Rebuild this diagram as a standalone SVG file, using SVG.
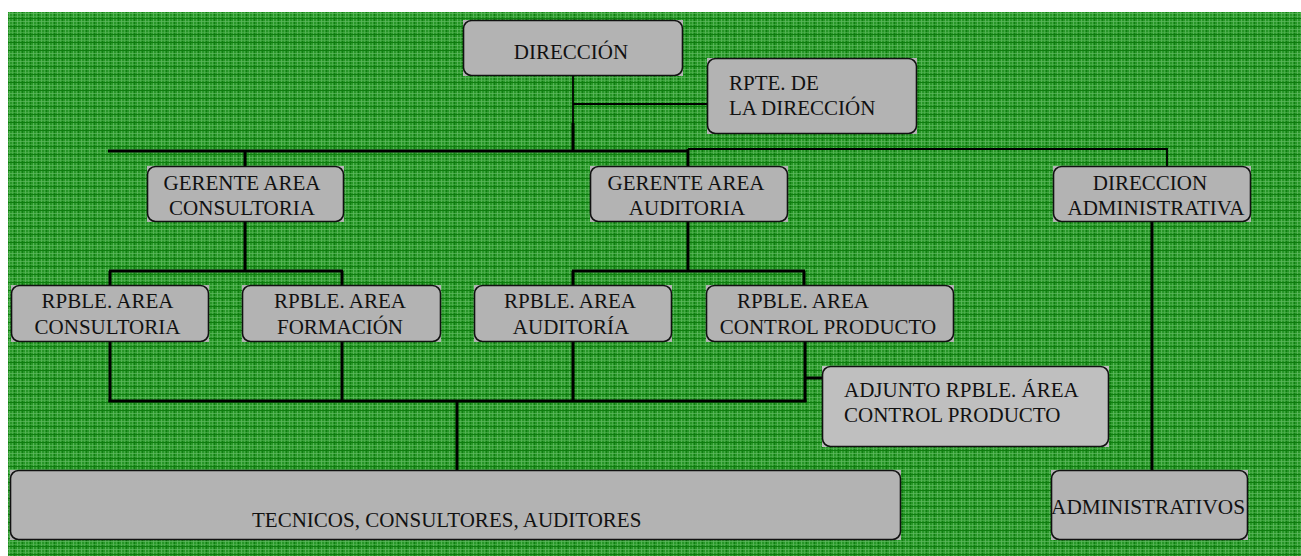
<svg xmlns="http://www.w3.org/2000/svg" width="1301" height="556" viewBox="0 0 1301 556" font-family="'Liberation Serif', 'DejaVu Serif', serif">
<defs>
<pattern id="plaid" x="8" y="12" width="8" height="8" patternUnits="userSpaceOnUse">
<rect width="8" height="8" fill="#279627"/>
<rect x="1" y="0" width="1" height="8" fill="#5fb95f" opacity="0.8"/>
<rect x="4" y="0" width="1" height="8" fill="#52b252" opacity="0.7"/>
<rect x="6" y="0" width="1" height="8" fill="#0f7d0f"/>
<rect x="0" y="1" width="8" height="1" fill="#5fb95f" opacity="0.7"/>
<rect x="0" y="4" width="8" height="1" fill="#52b252" opacity="0.6"/>
<rect x="0" y="6" width="8" height="1" fill="#0f7d0f"/>
</pattern>
</defs>
<style>
.bg{fill:#b3b3b3;stroke:none}
.bgl{fill:#bfbfbf;stroke:none}
.bd{fill:none;stroke:#111;stroke-width:1.6}
.t{font-family:'Liberation Serif', 'DejaVu Serif', serif;font-size:21px;fill:#111}
.c{text-anchor:middle}
.thick{stroke:#000;stroke-width:3;fill:none}
.thin{stroke:#000;stroke-width:1.8;fill:none}
</style>
<rect x="0" y="0" width="1301" height="556" fill="#ffffff"/>
<rect x="8" y="12" width="1293" height="544" fill="url(#plaid)"/>

<g id="connectors">
<line class="thin" x1="573" y1="76" x2="573" y2="124"/>
<line class="thin" x1="573" y1="104" x2="707" y2="104"/>
<line class="thick" x1="573" y1="123" x2="573" y2="152"/>
<line class="thick" x1="108" y1="151" x2="688" y2="151"/>
<line class="thin" x1="688" y1="149" x2="1168" y2="149"/>
<line class="thick" x1="245" y1="151" x2="245" y2="166"/>
<line class="thick" x1="688" y1="149" x2="688" y2="166"/>
<line class="thin" x1="1167" y1="149" x2="1167" y2="166"/>
<line class="thick" x1="245" y1="222" x2="245" y2="272"/>
<line class="thick" x1="109" y1="271" x2="343" y2="271"/>
<line class="thick" x1="110" y1="271" x2="110" y2="285"/>
<line class="thick" x1="342" y1="271" x2="342" y2="285"/>
<line class="thick" x1="688" y1="222" x2="688" y2="272"/>
<line class="thick" x1="572" y1="271" x2="805" y2="271"/>
<line class="thick" x1="573" y1="271" x2="573" y2="285"/>
<line class="thick" x1="804" y1="271" x2="804" y2="285"/>
<line class="thick" x1="110" y1="342" x2="110" y2="402"/>
<line class="thick" x1="342" y1="342" x2="342" y2="402"/>
<line class="thick" x1="573" y1="342" x2="573" y2="402"/>
<line class="thick" x1="805" y1="342" x2="805" y2="402"/>
<line class="thick" x1="108.5" y1="401" x2="806.5" y2="401"/>
<line class="thick" x1="805" y1="378" x2="822" y2="378"/>
<line class="thick" x1="457" y1="401" x2="457" y2="470"/>
<line class="thick" x1="1152" y1="222" x2="1152" y2="470"/>
</g>

<g id="direccion">
<rect class="bg" x="463" y="20" width="220" height="56"/>
<rect class="bd" x="463.5" y="20.5" width="219" height="55" rx="8"/>
<text class="t c" x="571" y="59">DIRECCIÓN</text>
</g>
<g id="rpte">
<rect class="bg" x="707" y="58" width="210" height="76"/>
<rect class="bd" x="707.5" y="58.5" width="209" height="75" rx="8"/>
<text class="t" x="729" y="90">RPTE. DE</text>
<text class="t" x="729" y="115">LA DIRECCIÓN</text>
</g>
<g id="gerente-consultoria">
<rect class="bg" x="147" y="166" width="197" height="56"/>
<rect class="bd" x="147.5" y="166.5" width="196" height="55" rx="8"/>
<text class="t c" x="242" y="190">GERENTE AREA</text>
<text class="t c" x="242" y="215">CONSULTORIA</text>
</g>
<g id="gerente-auditoria">
<rect class="bg" x="590" y="166" width="198" height="56"/>
<rect class="bd" x="590.5" y="166.5" width="197" height="55" rx="8"/>
<text class="t c" x="686" y="190">GERENTE AREA</text>
<text class="t c" x="687" y="215">AUDITORIA</text>
</g>
<g id="direccion-administrativa">
<rect class="bg" x="1053" y="166" width="198" height="56"/>
<rect class="bd" x="1053.5" y="166.5" width="197" height="55" rx="8"/>
<text class="t c" x="1150" y="190">DIRECCION</text>
<text class="t c" x="1156" y="215">ADMINISTRATIVA</text>
</g>
<g id="rpble-consultoria">
<rect class="bg" x="11" y="285" width="198" height="57"/>
<rect class="bd" x="11.5" y="285.5" width="197" height="56" rx="8"/>
<text class="t c" x="107.5" y="308">RPBLE. AREA</text>
<text class="t c" x="107.5" y="334">CONSULTORIA</text>
</g>
<g id="rpble-formacion">
<rect class="bg" x="242" y="285" width="199" height="57"/>
<rect class="bd" x="242.5" y="285.5" width="198" height="56" rx="8"/>
<text class="t c" x="340" y="308">RPBLE. AREA</text>
<text class="t c" x="340" y="334">FORMACIÓN</text>
</g>
<g id="rpble-auditoria">
<rect class="bg" x="474" y="285" width="198" height="57"/>
<rect class="bd" x="474.5" y="285.5" width="197" height="56" rx="8"/>
<text class="t c" x="570" y="308">RPBLE. AREA</text>
<text class="t c" x="571" y="334">AUDITORÍA</text>
</g>
<g id="rpble-control">
<rect class="bg" x="706" y="285" width="248" height="57"/>
<rect class="bd" x="706.5" y="285.5" width="247" height="56" rx="8"/>
<text class="t c" x="803" y="308">RPBLE. AREA</text>
<text class="t c" x="828" y="334">CONTROL PRODUCTO</text>
</g>
<g id="adjunto">
<rect class="bgl" x="822" y="366" width="287" height="81"/>
<rect class="bd" x="822.5" y="366.5" width="286" height="80" rx="8"/>
<text class="t" x="844" y="397">ADJUNTO RPBLE. ÁREA</text>
<text class="t" x="844" y="422">CONTROL PRODUCTO</text>
</g>
<g id="tecnicos">
<rect class="bg" x="10" y="470" width="891" height="70"/>
<rect class="bd" x="10.5" y="470.5" width="890" height="69" rx="8"/>
<text class="t" x="252" y="527">TECNICOS, CONSULTORES, AUDITORES</text>
</g>
<g id="administrativos">
<rect class="bg" x="1051" y="470" width="197" height="70"/>
<rect class="bd" x="1051.5" y="470.5" width="196" height="69" rx="8"/>
<text class="t c" x="1148" y="514" textLength="194" lengthAdjust="spacingAndGlyphs">ADMINISTRATIVOS</text>
</g>
</svg>
